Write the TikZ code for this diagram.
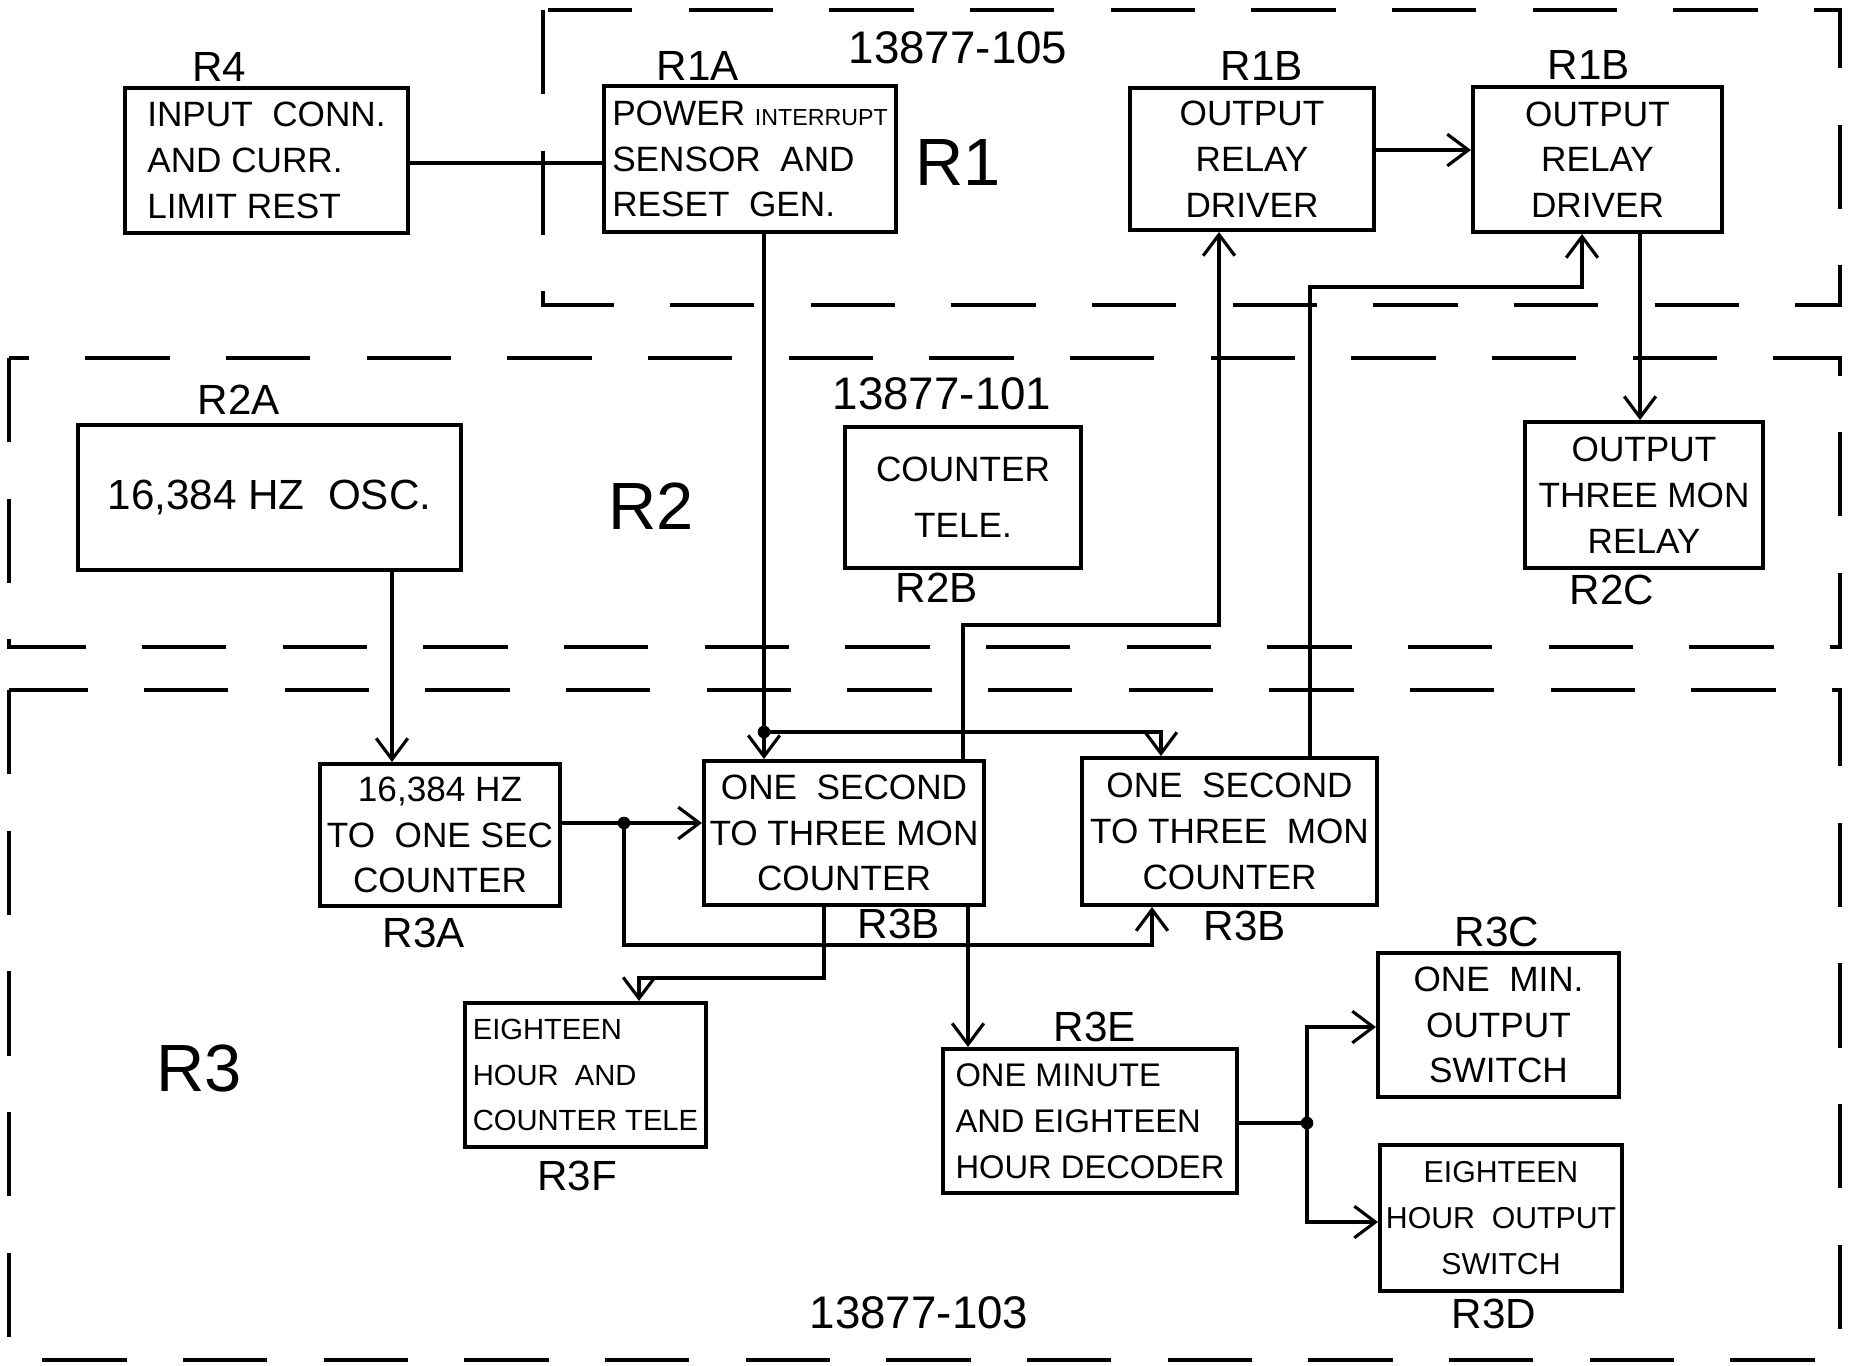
\documentclass[tikz,border=0pt]{standalone}
\usepackage{fontspec}
\setmainfont{Liberation Sans}
\usetikzlibrary{arrows.meta}
\begin{document}
\begin{tikzpicture}[x=0.01cm,y=-0.01cm,
  blk/.style={draw, line width=1.1pt, inner sep=0pt, font=\fontsize{10}{13}\selectfont, align=center},
  lbl/.style={font=\fontsize{12}{14}\selectfont, inner sep=0pt},
  big/.style={font=\fontsize{19}{22}\selectfont, inner sep=0pt},
  num/.style={font=\fontsize{13}{15}\selectfont, inner sep=0pt},
  region/.style={draw, line width=1.3pt, dash pattern=on 24pt off 16pt},
  conn/.style={line width=0.9pt},
  arr/.style={conn, -{Straight Barb[length=6pt,width=9pt,line width=0.9pt]}},
  dot/.style={circle, fill, inner sep=0pt, minimum size=3.6pt}
]
\useasboundingbox (0,0) rectangle (1855,1365);
\fill[white] (0,0) rectangle (1855,1365);

% regions
\path[region] (543,10) rectangle (1840,305);
\path[region] (9,358) rectangle (1840,647);
\path[region] (9,690) rectangle (1840,1360);

% boxes
\node[blk, minimum width=2.83cm, minimum height=1.45cm, align=left] (R4) at (266.5,160.5) {INPUT\ \ CONN.\\AND\ CURR.\\LIMIT\ REST};
\node[blk, minimum width=2.91cm, minimum height=1.46cm, align=left] (R1A) at (750,159) {POWER {\fontsize{6.6}{13}\selectfont INTERRUPT}\\SENSOR\ \ AND\\RESET\ \ GEN.};
\node[blk, minimum width=2.44cm, minimum height=1.42cm] (R1B1) at (1252,159) {OUTPUT\\RELAY\\DRIVER};
\node[blk, minimum width=2.49cm, minimum height=1.45cm] (R1B2) at (1597.5,159.5) {OUTPUT\\RELAY\\DRIVER};
\node[blk, minimum width=3.83cm, minimum height=1.45cm, font=\fontsize{12}{14}\selectfont] (R2A) at (269.5,497.5) {16,384 HZ\ \ OSC.};
\node[blk, minimum width=2.36cm, minimum height=1.41cm] (R2B) at (963,497.5) {COUNTER\\[3pt]TELE.};
\node[blk, minimum width=2.38cm, minimum height=1.46cm] (R2C) at (1644,495) {OUTPUT\\THREE MON\\RELAY};
\node[blk, minimum width=2.40cm, minimum height=1.42cm] (R3A) at (440,835) {16,384 HZ\\TO\ \ ONE SEC\\COUNTER};
\node[blk, minimum width=2.80cm, minimum height=1.44cm] (R3B1) at (844,833) {ONE\ \ SECOND\\TO THREE MON\\COUNTER};
\node[blk, minimum width=2.95cm, minimum height=1.47cm] (R3B2) at (1229.5,831.5) {ONE\ \ SECOND\\TO THREE\ \ MON\\COUNTER};
\node[blk, minimum width=2.41cm, minimum height=1.44cm, align=left, font=\fontsize{8.3}{13}\selectfont] (R3F) at (585.5,1075) {EIGHTEEN\\HOUR\ \ AND\\COUNTER TELE};
\node[blk, minimum width=2.94cm, minimum height=1.44cm, align=left, font=\fontsize{9.3}{13}\selectfont] (R3E) at (1090,1121) {ONE MINUTE\\AND EIGHTEEN\\HOUR DECODER};
\node[blk, minimum width=2.41cm, minimum height=1.44cm] (R3C) at (1498.5,1025) {ONE\ \ MIN.\\OUTPUT\\SWITCH};
\node[blk, minimum width=2.42cm, minimum height=1.46cm, font=\fontsize{8.6}{13}\selectfont] (R3D) at (1501,1218) {EIGHTEEN\\HOUR\ \ OUTPUT\\SWITCH};

% labels
\node[lbl] (lR4) at (219,67) {R4};
\node[lbl] (lR1A) at (698,66) {R1A};
\node[lbl] (lR1B1) at (1262,66) {R1B};
\node[lbl] (lR1B2) at (1589,65) {R1B};
\node[num] (n105) at (958,48) {13877-105};
\node[big] (rR1) at (958,162) {R1};
\node[lbl] (lR2A) at (239,400) {R2A};
\node[num] (n101) at (942,394) {13877-101};
\node[big] (rR2) at (651,506) {R2};
\node[lbl] (lR2B) at (937,588) {R2B};
\node[lbl] (lR2C) at (1612,590) {R2C};
\node[lbl] (lR3A) at (424,933) {R3A};
\node[lbl] (lR3B1) at (899,924) {R3B};
\node[lbl] (lR3B2) at (1245,926) {R3B};
\node[lbl] (lR3C) at (1497,932) {R3C};
\node[lbl] (lR3E) at (1095,1027) {R3E};
\node[big] (rR3) at (199,1068) {R3};
\node[lbl] (lR3F) at (577,1176) {R3F};
\node[num] (n103) at (919,1313) {13877-103};
\node[lbl] (lR3D) at (1494,1314) {R3D};

% helper coordinates
\coordinate (yR) at (0,163);
\coordinate (J1) at (764,732);
\coordinate (B1) at (1161,732);
\coordinate (xA) at (392,0);
\coordinate (J2) at (624,823);
\coordinate (B2) at (1152,945);
\coordinate (B3) at (963,625);
\coordinate (B4) at (1219,625);
\coordinate (B5) at (1310,287);
\coordinate (B6) at (1582,287);
\coordinate (yA) at (0,150);
\coordinate (xB) at (1640,0);
\coordinate (B7) at (824,978);
\coordinate (B8) at (639,978);
\coordinate (xC) at (968,0);
\coordinate (J3) at (1307,1123);
\coordinate (yC) at (0,1027);
\coordinate (yD) at (0,1222);

% connectors
\draw[conn] (R4.east |- yR) -- (R1A.west |- yR);
\draw[conn] (R1A.south -| J1) -- (J1);
\draw[arr] (J1) -- (J1 |- R3B1.north);
\draw[arr] (J1) -- (B1) -- (B1 |- R3B2.north);
\node[dot] (d1) at (J1) {};
\draw[arr] (R2A.south -| xA) -- (R3A.north -| xA);
\draw[arr] (R3A.east |- J2) -- (R3B1.west |- J2);
\draw[arr] (J2) |- (B2) -- (B2 |- R3B2.south);
\node[dot] (d2) at (J2) {};
\draw[arr] (R3B1.north -| B3) -- (B3) -- (B4) -- (B4 |- R1B1.south);
\draw[arr] (R3B2.north -| B5) -- (B5) -- (B6) -- (B6 |- R1B2.south);
\draw[arr] (R1B1.east |- yA) -- (R1B2.west |- yA);
\draw[arr] (R1B2.south -| xB) -- (R2C.north -| xB);
\draw[arr] (R3B1.south -| B7) -- (B7) -- (B8) -- (B8 |- R3F.north);
\draw[arr] (R3B1.south -| xC) -- (R3E.north -| xC);
\draw[conn] (R3E.east |- J3) -- (J3);
\draw[arr] (J3) |- (R3C.west |- yC);
\draw[arr] (J3) |- (R3D.west |- yD);
\node[dot] (d3) at (J3) {};
\end{tikzpicture}
\end{document}
